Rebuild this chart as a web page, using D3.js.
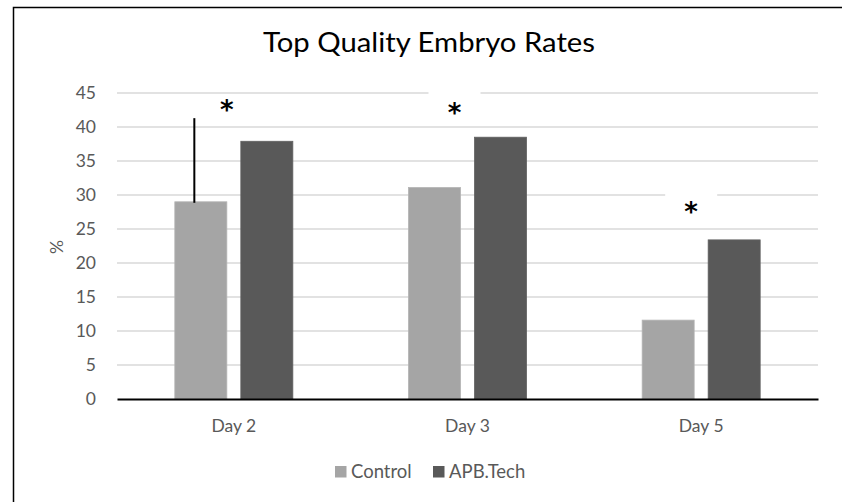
<!DOCTYPE html>
<html>
<head>
<meta charset="utf-8">
<script src="https://cdn.jsdelivr.net/npm/d3@7"></script>
<style>
  html, body { margin: 0; padding: 0; background: #fff; }
  svg { display: block; font-family: Lato, "Open Sans", sans-serif; }
</style>
</head>
<body>
<div id="chart"></div>
<script>
// data
const days = ["Day 2", "Day 3", "Day 5"];
const series = ["Control", "APB.Tech"];
const control = [29.0, 31.1, 11.6];
const apbTech = [37.9, 38.5, 23.4];
const yTicks = [0, 5, 10, 15, 20, 25, 30, 35, 40, 45];
// significance marks, value = height of the asterisk in % units
const sigY = [43.3, 42.8, 28.3];
const sigShift = [-7, -13, -10];
const sigKnockout = [false, true, true];
// single error bar on Day 2 control
const errTop = [41.3, null, null];

const colors = { "Control": "#a5a5a5", "APB.Tech": "#595959" };

var width = 842, height = 502;
var margin = { top: 93, right: 24, bottom: 103, left: 117 };
var innerW = width - margin.left - margin.right,
    innerH = height - margin.top - margin.bottom;

var svg = d3.select("#chart")
  .append("svg")
  .attr("width", width)
  .attr("height", height);

// chart frame (only top and left edges are inside the picture)
svg.append("rect")
  .attr("x", 13.5).attr("y", 7.5)
  .attr("width", 900).attr("height", 600)
  .attr("fill", "none")
  .attr("stroke", "#000")
  .attr("stroke-width", 1.5);

svg.append("text")
  .attr("x", 429).attr("y", 52)
  .attr("text-anchor", "middle")
  .attr("font-size", 26)
  .attr("textLength", 332)
  .attr("lengthAdjust", "spacingAndGlyphs")
  .attr("fill", "#000")
  .text("Top Quality Embryo Rates");

var g = svg.append("g")
  .attr("transform", "translate(" + margin.left + "," + margin.top + ")");

var x = d3.scaleBand().domain(days).range([0, innerW]).padding(0);
var xs = d3.scaleBand().domain(series).range([0, x.bandwidth()])
  .paddingInner(0.212).paddingOuter(0.876);
var y = d3.scaleLinear().domain([0, 45]).range([innerH, 0]);

// gridlines
g.append("g")
  .selectAll("line")
  .data(yTicks.slice(1))
  .enter().append("line")
  .attr("x1", 0).attr("x2", innerW)
  .attr("y1", d => y(d)).attr("y2", d => y(d))
  .attr("stroke", "#d9d9d9")
  .attr("stroke-width", 1.3);

// y tick labels
var yAxis = g.append("g")
  .call(d3.axisLeft(y).tickValues(yTicks).tickSize(0).tickPadding(21));
yAxis.select(".domain").remove();
yAxis.selectAll("text")
  .attr("font-family", "Lato, sans-serif")
  .attr("font-size", 17.5)
  .attr("fill", "#595959");

// y title
svg.append("text")
  .attr("transform", "translate(63," + 247 + ") rotate(-90)")
  .attr("text-anchor", "middle")
  .attr("font-size", 17.5)
  .attr("fill", "#595959")
  .text("%");

// bars
var rows = days.map((d, i) => ({ day: d, values: [
  { s: "Control", v: control[i] },
  { s: "APB.Tech", v: apbTech[i] }
]}));

g.append("g")
  .selectAll("g")
  .data(rows)
  .enter().append("g")
  .attr("transform", d => "translate(" + x(d.day) + ",0)")
  .selectAll("rect")
  .data(d => d.values)
  .enter().append("rect")
  .attr("x", d => xs(d.s))
  .attr("y", d => y(d.v))
  .attr("width", xs.bandwidth())
  .attr("height", d => innerH - y(d.v))
  .attr("fill", d => colors[d.s])
  .attr("stroke", d => d3.color(colors[d.s]).brighter(0.25))
  .attr("stroke-width", 0.8);

// error bar
days.forEach((d, i) => {
  if (errTop[i] == null) return;
  var cx = x(d) + xs("Control") + xs.bandwidth() / 2 - 6.5;
  g.append("line")
    .attr("x1", cx).attr("x2", cx)
    .attr("y1", y(control[i]) + 1).attr("y2", y(errTop[i]))
    .attr("stroke", "#000")
    .attr("stroke-width", 2);
});

// x axis
var xAxis = g.append("g")
  .attr("transform", "translate(0," + innerH + ")")
  .call(d3.axisBottom(x).tickSize(0).tickPadding(21));
xAxis.select(".domain")
  .attr("stroke", "#000")
  .attr("stroke-width", 2.2);
xAxis.selectAll("text")
  .attr("font-family", "Lato, sans-serif")
  .attr("font-size", 17.5)
  .attr("fill", "#595959");

// significance asterisks
days.forEach((d, i) => {
  var cx = x(d) + x.bandwidth() / 2 + sigShift[i];
  var cy = y(sigY[i]);
  if (sigKnockout[i]) {
    g.append("rect")
      .attr("x", cx - 26).attr("y", cy - 17)
      .attr("width", 52).attr("height", 32)
      .attr("fill", "#fff");
  }
  g.append("text")
    .attr("x", cx).attr("y", cy + 14)
    .attr("text-anchor", "middle")
    .attr("font-family", "DejaVu Sans, sans-serif")
    .attr("font-weight", "bold")
    .attr("font-size", 26)
    .attr("fill", "#000")
    .text("*");
});

// legend
var legend = svg.append("g").attr("transform", "translate(335,466)");
var lx = [0, 98];
series.forEach((s, i) => {
  legend.append("rect")
    .attr("x", lx[i]).attr("y", 0)
    .attr("width", 11.5).attr("height", 11.5)
    .attr("fill", colors[s]);
  legend.append("text")
    .attr("x", lx[i] + 16).attr("y", 12)
    .attr("font-size", 18.5)
    .attr("fill", "#595959")
    .text(s);
});
</script>
</body>
</html>
